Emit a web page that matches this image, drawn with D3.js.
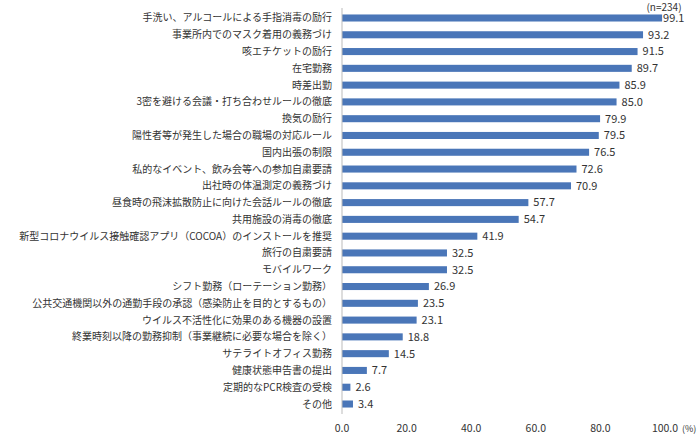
<!DOCTYPE html>
<html><head><meta charset="utf-8">
<script src="https://cdn.jsdelivr.net/npm/d3@7"></script>
<style>body{margin:0;background:#fff}text{font-family:"Noto Sans CJK JP","Noto Sans",sans-serif}</style>
</head><body><svg id="c" width="700" height="436"></svg>
<script>
const categories=["手洗い、アルコールによる手指消毒の励行","事業所内でのマスク着用の義務づけ","咳エチケットの励行","在宅勤務","時差出勤","3密を避ける会議・打ち合わせルールの徹底","換気の励行","陽性者等が発生した場合の職場の対応ルール","国内出張の制限","私的なイベント、飲み会等への参加自粛要請","出社時の体温測定の義務づけ","昼食時の飛沫拡散防止に向けた会話ルールの徹底","共用施設の消毒の徹底","新型コロナウイルス接触確認アプリ（COCOA）のインストールを推奨","旅行の自粛要請","モバイルワーク","シフト勤務（ローテーション勤務）","公共交通機関以外の通勤手段の承認（感染防止を目的とするもの）","ウイルス不活性化に効果のある機器の設置","終業時刻以降の勤務抑制（事業継続に必要な場合を除く）","サテライトオフィス勤務","健康状態申告書の提出","定期的なPCR検査の受検","その他"];
const values=[99.1,93.2,91.5,89.7,85.9,85.0,79.9,79.5,76.5,72.6,70.9,57.7,54.7,41.9,32.5,32.5,26.9,23.5,23.1,18.8,14.5,7.7,2.6,3.4];
const ticks=[0,20,40,60,80,100];
const svg=d3.select("#c");
const x=d3.scaleLinear().domain([0,100]).range([342,665]);
const y=d3.scaleBand().domain(categories).range([9.6,412.4]).paddingInner(0.58).paddingOuter(0.29);
svg.append("g").selectAll("rect").data(values).join("rect")
 .attr("x",x(0)).attr("y",(d,i)=>y(categories[i])).attr("height",y.bandwidth())
 .attr("width",d=>x(d)-x(0)).attr("fill","#4a76b8");
svg.append("g").selectAll("text").data(values).join("text")
 .attr("x",d=>x(d)+(d>99?1:5)).attr("y",(d,i)=>y(categories[i])+y.bandwidth()/2).attr("dy","0.35em")
 .attr("font-size",11).attr("fill","#333").text(d=>d.toFixed(1));
svg.append("g").selectAll("text").data(categories).join("text")
 .attr("x",332).attr("y",d=>y(d)+y.bandwidth()/2).attr("dy","0.35em").attr("text-anchor","end")
 .attr("font-size",10).attr("fill","#333").text(d=>d);
svg.append("line").attr("x1",x(0)).attr("x2",x(0)).attr("y1",8).attr("y2",414).attr("stroke","#bbb");
svg.append("g").selectAll("text").data(ticks).join("text")
 .attr("x",d=>x(d)).attr("y",432).attr("text-anchor","middle").attr("font-size",10.5).attr("fill","#333")
 .text(d=>d.toFixed(1));
svg.append("text").attr("x",682).attr("y",432).attr("font-size",9).attr("fill","#333").text("(%)");
svg.append("text").attr("x",664).attr("y",11).attr("text-anchor","middle").attr("font-size",10).attr("fill","#333").text("(n=234)");
</script></body></html>
